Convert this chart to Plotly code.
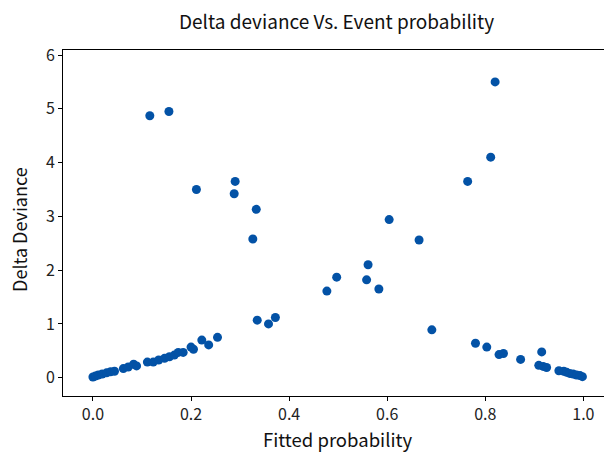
import plotly.graph_objects as go

fitted_probability = [
    0.000, 0.005, 0.011, 0.019, 0.028, 0.036, 0.044, 0.062, 0.072, 0.083, 0.089,
    0.111, 0.123, 0.134, 0.146, 0.156, 0.166, 0.174, 0.184, 0.200, 0.205, 0.222,
    0.236, 0.254,
    0.116, 0.155, 0.211, 0.290, 0.288, 0.333, 0.326, 0.335, 0.358, 0.372,
    0.477, 0.497, 0.561, 0.558, 0.583, 0.604, 0.665, 0.764, 0.811, 0.820,
    0.691, 0.780, 0.803, 0.828, 0.837, 0.872, 0.915, 0.909, 0.918, 0.925,
    0.950, 0.960, 0.966, 0.972, 0.979, 0.986, 0.993, 0.998,
]
delta_deviance = [
    0.013, 0.03, 0.05, 0.07, 0.09, 0.11, 0.12, 0.17, 0.20, 0.25, 0.22,
    0.29, 0.29, 0.33, 0.36, 0.39, 0.42, 0.47, 0.47, 0.57, 0.53, 0.70,
    0.61, 0.75,
    4.87, 4.95, 3.50, 3.65, 3.42, 3.13, 2.58, 1.07, 1.00, 1.12,
    1.61, 1.87, 2.10, 1.82, 1.65, 2.94, 2.56, 3.65, 4.10, 5.50,
    0.89, 0.64, 0.57, 0.43, 0.45, 0.34, 0.48, 0.23, 0.21, 0.19,
    0.13, 0.12, 0.10, 0.08, 0.07, 0.05, 0.04, 0.02,
]
x_ticks = [0.0, 0.2, 0.4, 0.6, 0.8, 1.0]
y_ticks = [0, 1, 2, 3, 4, 5, 6]

FONT = "Noto Sans CJK KR, Noto Sans, DejaVu Sans"
COLOR = "#0352a6"

fig = go.Figure()
fig.add_trace(go.Scatter(
    x=fitted_probability, y=delta_deviance, mode="markers",
    marker=dict(color=COLOR, size=9, line=dict(width=0)),
    showlegend=False,
))

fig.update_layout(
    width=604, height=453,
    margin=dict(l=63, r=0, t=50, b=57),
    paper_bgcolor="white", plot_bgcolor="white",
    font=dict(family=FONT, color="#222222"),
    annotations=[
        dict(text="Delta deviance Vs. Event probability", xref="paper", yref="paper",
             x=0.506, y=1.0, yshift=30, showarrow=False,
             font=dict(size=19, family=FONT, color="#111111"), xanchor="center", yanchor="middle"),
        dict(text="Fitted probability", xref="paper", yref="paper",
             x=0.507, y=0, yshift=-43, showarrow=False,
             font=dict(size=18.5, family=FONT, color="#111111"), xanchor="center", yanchor="middle"),
        dict(text="Delta Deviance", xref="paper", yref="paper",
             x=0, xshift=-44, y=0.48, showarrow=False, textangle=-90,
             font=dict(size=18, family=FONT, color="#111111"), xanchor="center", yanchor="middle"),
    ],
)
fig.update_xaxes(
    range=[-0.061, 1.042], tickvals=x_ticks, ticktext=[f"{v:.1f}" for v in x_ticks],
    showgrid=False, zeroline=False, showline=True, linecolor="black", linewidth=1,
    mirror=True, ticks="outside", ticklen=4, tickcolor="black",
    tickfont=dict(size=16, family=FONT, color="#222222"),
)
fig.update_yaxes(
    range=[-0.34, 6.093], tickvals=y_ticks,
    showgrid=False, zeroline=False, showline=True, linecolor="black", linewidth=1,
    mirror=False, ticks="outside", ticklen=4, tickcolor="black",
    tickfont=dict(size=16, family=FONT, color="#222222"),
)

fig.write_html("out.html", post_script="document.body.style.margin='0px';",
               config={"displayModeBar": False})
